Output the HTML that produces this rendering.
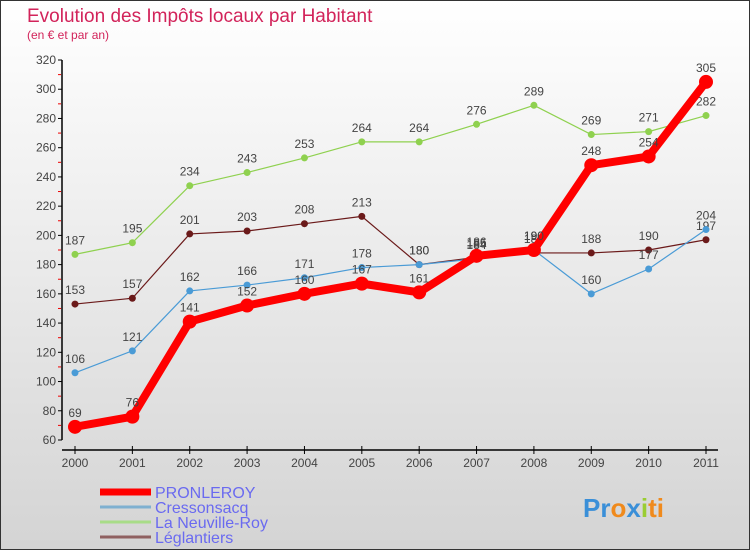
<!DOCTYPE html>
<html><head><meta charset="utf-8"><style>
body{margin:0;width:750px;height:550px;overflow:hidden;font-family:"Liberation Sans",sans-serif}
#c{position:absolute;left:0;top:0;width:748px;height:548px;border:1px solid #333;background:linear-gradient(#fff,#d4d4d4)}
</style></head><body>
<div id="c">
<svg id="s" width="750" height="550" style="position:absolute;left:-1px;top:-1px">
<text x="27" y="22" font-size="19" fill="#d2235a">Evolution des Impôts locaux par Habitant</text>
<text x="27" y="39" font-size="12" fill="#d2235a">(en € et par an)</text>
<g id="ax"></g><g id="ser"></g><g id="leg"></g>
<text x="583" y="517" font-size="26" font-weight="bold" fill="#3a8fd8">Pr<tspan fill="#f08a1c">o</tspan><tspan fill="#3a8fd8">x</tspan><tspan fill="#9acd32">i</tspan><tspan fill="#f08a1c">ti</tspan></text>
</svg></div>
<script>
const years=[2000,2001,2002,2003,2004,2005,2006,2007,2008,2009,2010,2011];
const yTicks=[60,80,100,120,140,160,180,200,220,240,260,280,300,320];
const pronleroy=[69,76,141,152,160,167,161,186,190,248,254,305];
const cressonsacq=[106,121,162,166,171,178,180,184,190,160,177,204];
const neuville=[187,195,234,243,253,264,264,276,289,269,271,282];
const leglantiers=[153,157,201,203,208,213,180,185,188,188,190,197];
const NS="http://www.w3.org/2000/svg";
const X=i=>75+i*(706-75)/11, Y=v=>440-(v-60)*380/260;
function el(t,a,p){const e=document.createElementNS(NS,t);for(const k in a)e.setAttribute(k,a[k]);p.appendChild(e);return e;}
const ax=document.getElementById('ax');
const yl=el('line',{x1:62,y1:60,x2:62,y2:440,stroke:'#000','stroke-width':1.5},ax);


const xl=el('line',{x1:62,y1:450,x2:718,y2:450,stroke:'#000','stroke-width':1.5},ax);


yTicks.forEach((v,i)=>{const y=Y(v);el('line',{x1:58,y1:y,x2:62,y2:y,stroke:'#000'},ax);
if(i<yTicks.length-1)el('line',{x1:58,y1:Y(v+10),x2:61,y2:Y(v+10),stroke:'#e00'},ax);
const t=el('text',{x:56,y:y+4,'font-size':12,fill:'#444','text-anchor':'end'},ax);t.textContent=v;

});
years.forEach((yr,i)=>{el('line',{x1:X(i),y1:446,x2:X(i),y2:454,stroke:'#000'},ax);
const t=el('text',{x:X(i),y:467,'font-size':12,fill:'#444','text-anchor':'middle'},ax);t.textContent=yr;

});
const ser=document.getElementById('ser');
function draw(vals,color,w,r,name){const g=el('g',{},ser);


el('polyline',{points:vals.map((v,i)=>X(i)+','+Y(v)).join(' '),fill:'none',stroke:color,'stroke-width':w,'stroke-linejoin':'round'},g);
vals.forEach((v,i)=>{el('circle',{cx:X(i),cy:Y(v),r:r,fill:color},g);
const t=el('text',{x:X(i),y:Y(v)-10,'font-size':12,fill:'#444','text-anchor':'middle'},g);t.textContent=v;});}
draw(neuville,'#8fd14f',1.2,3.5,'series-la-neuville-roy');
draw(leglantiers,'#6b1a1a',1.2,3.5,'series-leglantiers');
draw(cressonsacq,'#4a9bd6',1.2,3.5,'series-cressonsacq');
draw(pronleroy,'#f00',8,7,'series-pronleroy');
const leg=document.getElementById('leg');
[['PRONLEROY','#f00',7],['Cressonsacq','#7fb0d0',3],['La Neuville-Roy','#a8dc88',3],['Léglantiers','#8f6060',3]].forEach((d,i)=>{
const y=492+i*15;const g=el('g',{},leg);


el('line',{x1:100,y1:y,x2:151,y2:y,stroke:d[1],'stroke-width':d[2]},g);
const t=el('text',{x:155,y:y+6,'font-size':16,fill:'#6a6af0'},g);t.textContent=d[0];});
</script></body></html>
